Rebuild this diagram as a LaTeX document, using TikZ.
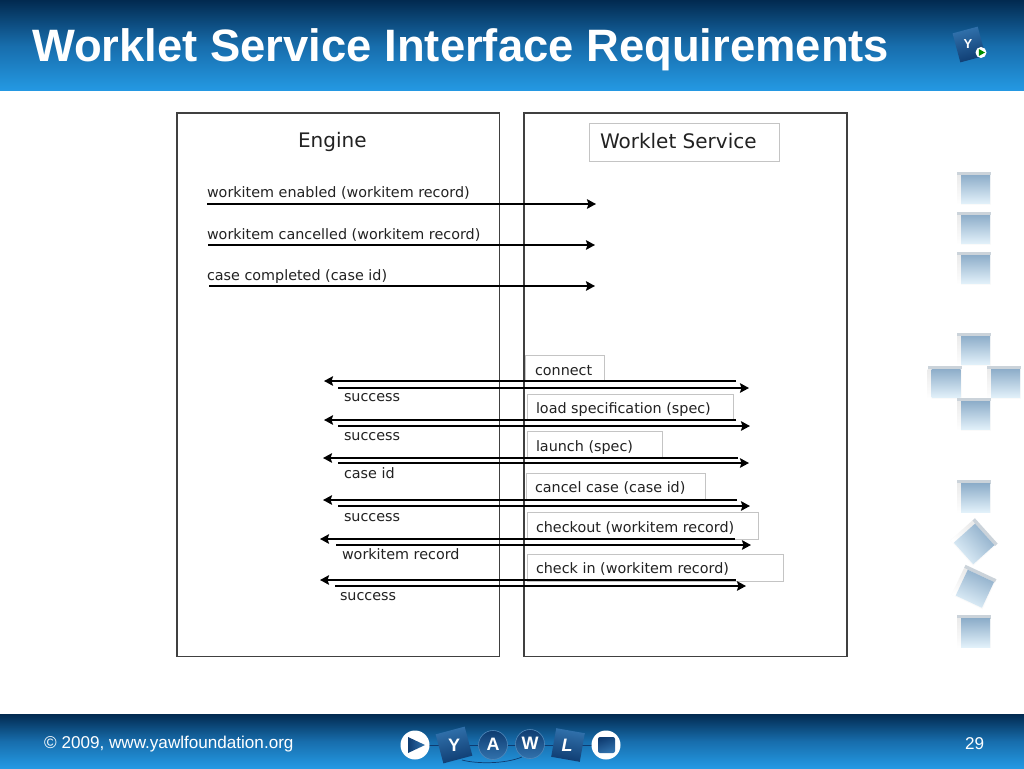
\documentclass[tikz,border=0pt]{standalone}
\usepackage{fontspec}
\setmainfont{Liberation Sans}
\newfontfamily\djvfont{DejaVu Sans}
\usetikzlibrary{arrows.meta}
\definecolor{hdark}{HTML}{022A50}
\definecolor{hmid}{HTML}{125A94}
\definecolor{hbright}{HTML}{2499E3}
\definecolor{navy}{HTML}{0E3B70}
\definecolor{logoblue}{HTML}{3273AE}
\definecolor{panelline}{HTML}{404040}
\definecolor{boxline}{HTML}{C4C4C4}
\definecolor{textdark}{HTML}{222222}
\definecolor{decotop}{HTML}{8DADC9}
\definecolor{decobot}{HTML}{E2F1FA}
\definecolor{decoband}{HTML}{CBD3DA}
\tikzset{
  panel/.style={draw=panelline,line width=1.5pt,fill=white},
  msgbox/.style={draw=boxline,line width=0.9pt,fill=white},
  flow/.style={draw=black,line width=2pt,-{Stealth[length=9pt,width=9.5pt,inset=1.5pt]}},
  lbl/.style={anchor=base west,inner sep=0pt,outer sep=0pt,text=textdark,font=\djvfont\fontsize{14.35}{16}\selectfont},
  head/.style={anchor=base west,inner sep=0pt,outer sep=0pt,text=textdark,font=\djvfont\fontsize{20}{22}\selectfont},
  logotxt/.style={inner sep=0pt,text=white,font=\bfseries\fontsize{18}{18}\selectfont},
  logocirc/.style={circle,draw=logoblue!85!white,line width=0.6pt,top color=navy,bottom color=logoblue,minimum size=29pt,inner sep=0pt},
  footer/.style={anchor=base west,inner sep=0pt,text=white,font=\fontsize{17.1}{18}\selectfont},
}
% side ornament square
\newcommand{\deco}[3]{%
  \begin{scope}[shift={(#1,#2)},rotate=#3]
    \fill[black!2] (-17,-16.5) rectangle (17,16.5);
    \fill[decoband] (-17,-16.5) rectangle (17,-13);
    \shade[top color=black!8,bottom color=white,shading angle=#3] (-17,-13) rectangle (-13,16.5);
    \shade[top color=decotop,bottom color=decobot,shading angle=#3] (-13,-13) rectangle (16,15.5);
  \end{scope}}
\newcommand{\msg}[5]{%
  \coordinate (#1-a) at (#3,#2);
  \coordinate (#1-b) at (#4,#2);
  \draw[flow] (#1-a) -- (#1-b);}
\begin{document}
\begin{tikzpicture}[x=1pt,y=-1pt]
\useasboundingbox (0,0) rectangle (1024,768);
\fill[white] (0,0) rectangle (1024,768);
% header and footer
\shade[top color=hdark,bottom color=hbright,middle color=hmid!70!hbright] (0,0) rectangle (1024,90.6);
\shade[top color=hdark,bottom color=hbright,middle color=hmid!70!hbright] (0,714) rectangle (1024,768);
\node[anchor=base west,inner sep=0pt,text=white,font=\bfseries\fontsize{45.4}{48}\selectfont] (title) at (32,62) {Worklet Service Interface Requirements};
% top logo
\begin{scope}[shift={(969,44.5)},rotate=15]
  \shade[top color=logoblue,bottom color=navy,shading angle=15] (-13,-15) rectangle (13,15);
\end{scope}
\node[logotxt,font=\bfseries\fontsize{13}{13}\selectfont] (toplogoY) at (968,44) {Y};
\node[circle,fill=white,minimum size=11pt,inner sep=0pt] (toplogoP) at (981,52.5) {};
\fill[green!55!black] (978.8,49) -- (985,52.5) -- (978.8,56) -- cycle;
% panels
\draw[panel] (176.8,112.8) rectangle (499.4,656.3);
\draw[panel] (524.2,112.8) rectangle (847.2,656.3);
\draw[msgbox] (589.5,123) rectangle (779.5,161.5);
\node[head] (engine) at (298,147) {Engine};
\node[head] (service) at (600,148) {Worklet Service};
% message boxes
\draw[msgbox] (525,355) rectangle (604.5,381);
\draw[msgbox] (527,394) rectangle (733,420);
\draw[msgbox] (527,431.5) rectangle (662,458);
\draw[msgbox] (526,473) rectangle (705.5,500);
\draw[msgbox] (527,512.5) rectangle (758,539);
\draw[msgbox] (527,554) rectangle (783.5,581);
% labels
\node[lbl] (t1) at (207,197) {workitem enabled (workitem record)};
\node[lbl] (t2) at (207,239.5) {workitem cancelled (workitem record)};
\node[lbl] (t3) at (207,280) {case completed (case id)};
\node[lbl] (m1) at (535,375) {connect};
\node[lbl] (r1) at (344,401) {success};
\node[lbl] (m2) at (536,413) {load specification (spec)};
\node[lbl] (r2) at (344,440) {success};
\node[lbl] (m3) at (536,451) {launch (spec)};
\node[lbl] (r3) at (344,478) {case id};
\node[lbl] (m4) at (535,492) {cancel case (case id)};
\node[lbl] (r4) at (344,521) {success};
\node[lbl] (m5) at (536,532) {checkout (workitem record)};
\node[lbl] (r5) at (342,559) {workitem record};
\node[lbl] (m6) at (536,573) {check in (workitem record)};
\node[lbl] (r6) at (340,600) {success};
% arrows
\msg{ea}{204}{207}{596}{}
\msg{eb}{245}{208}{595}{}
\msg{ec}{286}{209}{595}{}
\msg{l1}{381}{736}{324}{}
\msg{s1}{388}{338}{749}{}
\msg{l2}{420}{736}{324}{}
\msg{s2}{426}{338}{750}{}
\msg{l3}{458}{738}{323}{}
\msg{s3}{463}{338}{749}{}
\msg{l4}{500}{737}{323}{}
\msg{s4}{506}{338}{750}{}
\msg{l5}{539}{735}{320}{}
\msg{s5}{545}{336}{751}{}
\msg{l6}{580}{736}{320}{}
\msg{s6}{586}{335}{746}{}
% side ornaments
\deco{974}{188}{0}
\deco{974}{228}{0}
\deco{974}{268}{0}
\deco{974}{349}{0}
\deco{944.5}{382}{0}
\deco{1004}{382}{0}
\deco{974}{414}{0}
\deco{974}{496.5}{0}
\deco{974}{542}{-48}
\deco{974}{587}{-25}
\deco{974}{631.5}{0}
% footer
\node[footer] (copy) at (44,748) {© 2009, www.yawlfoundation.org};
\node[footer] (page) at (965,749) {29};
% footer logo
\coordinate (cY) at (462,760);
\coordinate (cW) at (522,757);
\draw[navy,line width=0.7pt] (415,745) -- (606,745);
\draw[navy,line width=0.7pt] (cY) .. controls (477,764) and (505,764) .. (cW);
\node[circle,fill=white,minimum size=29pt,inner sep=0pt] (play) at (415,745) {};
\shade[left color=navy,right color=logoblue] (408,737) -- (425,745) -- (408,753) -- cycle;
\begin{scope}[shift={(454,745)},rotate=15]
  \shade[top color=logoblue,bottom color=navy,shading angle=15] (-15,-15) rectangle (15,15);
\end{scope}
\node[logotxt] (Y) at (454,745) {Y};
\node[logocirc] (Ac) at (493,745) {};
\node[logotxt] (A) at (493,744) {A};
\node[logocirc] (Wc) at (530,744) {};
\node[logotxt] (W) at (530,743.5) {W};
\begin{scope}[shift={(568,745)},rotate=-10]
  \shade[top color=logoblue,bottom color=navy,shading angle=-10] (-14.5,-14.5) rectangle (14.5,14.5);
\end{scope}
\node[logotxt,font=\bfseries\itshape\fontsize{18}{18}\selectfont] (L) at (567,745) {L};
\node[circle,fill=white,minimum size=29pt,inner sep=0pt] (stop) at (606,745) {};
\shade[top color=navy,bottom color=logoblue,shading angle=20,rounded corners=2pt] (598,737) rectangle (615,753);
\end{tikzpicture}
\end{document}
